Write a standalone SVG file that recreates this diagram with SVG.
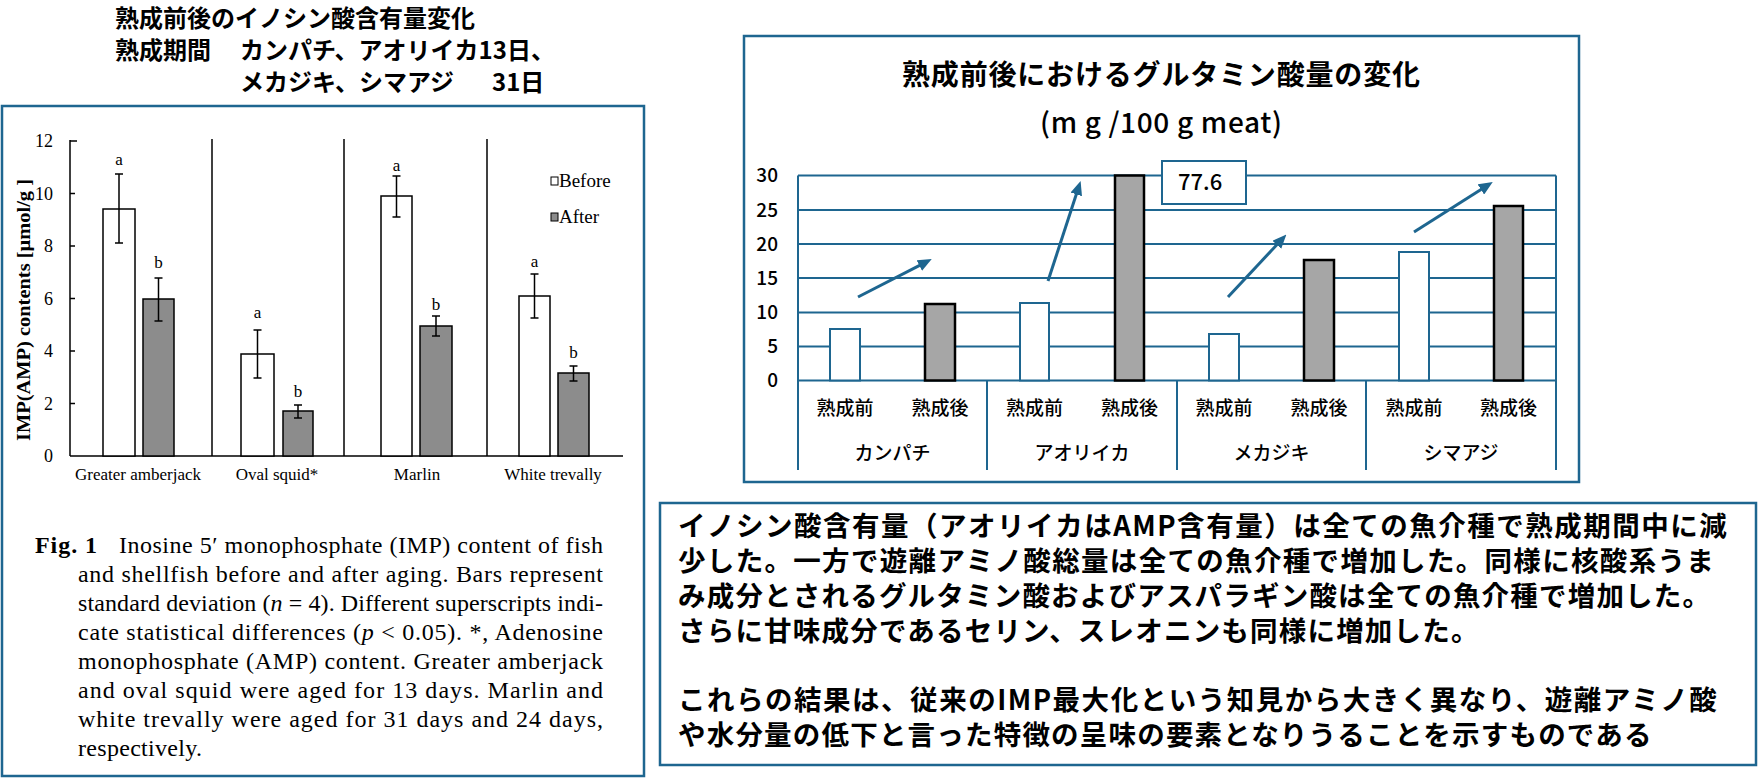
<svg xmlns="http://www.w3.org/2000/svg" width="1758" height="779" viewBox="0 0 1758 779">
<style>
.jp{font-family:"Noto Sans CJK JP","Noto Sans",sans-serif;fill:#000}
.serif{font-family:"Liberation Serif","Times New Roman",serif;fill:#000}
.frame{fill:#fff;stroke:#1E6690;stroke-width:2.5}
.grid{stroke:#1E6690;stroke-width:2;fill:none}
.axis{stroke:#000;stroke-width:1.5;fill:none}
.wbar{fill:#fff;stroke:#000;stroke-width:1.5}
.gbar{fill:#8C8C8C;stroke:#000;stroke-width:1.5}
.err{stroke:#000;stroke-width:1.5;fill:none}
.rw{fill:#fff;stroke:#1E6690;stroke-width:2}
.rg{fill:#A6A6A6;stroke:#000;stroke-width:2.5}
.arrow{stroke:#1E6690;stroke-width:3;fill:none;marker-end:url(#ah)}
.lbl{font-size:17px;text-anchor:middle}
.ytk{font-size:18px;text-anchor:end}
.cap{font-size:24px}
.rx{font-size:19px;font-weight:500;text-anchor:middle}
.ry{font-size:19px;font-weight:500;text-anchor:end}
.body{font-size:27.5px;font-weight:bold;letter-spacing:1.2px}
</style>
<defs>
<marker id="ah" markerUnits="userSpaceOnUse" markerWidth="14" markerHeight="12" refX="2" refY="6" orient="auto">
<path d="M0,0 L14,6 L0,12 z" fill="#1E6690"/>
</marker>
</defs>
<rect width="1758" height="779" fill="#fff"/>

<g id="left-title" class="jp" font-size="24" font-weight="bold">
<text x="115" y="27">熟成前後のイノシン酸含有量変化</text>
<text x="115" y="59">熟成期間<tspan x="240">カンパチ、アオリイカ13日、</tspan></text>
<text x="240" y="91">メカジキ、シマアジ<tspan x="492">31日</tspan></text>
</g>

<g id="left-panel">
<rect class="frame" x="2" y="106" width="642" height="670"/>
<g id="left-axes">
<line class="axis" x1="70" y1="140" x2="70" y2="456"/>
<line class="axis" x1="70" y1="456" x2="623" y2="456"/>
<line class="axis" x1="70" y1="141" x2="77" y2="141"/>
<line class="axis" x1="70" y1="193.5" x2="75" y2="193.5"/>
<line class="axis" x1="70" y1="246" x2="75" y2="246"/>
<line class="axis" x1="70" y1="298.5" x2="75" y2="298.5"/>
<line class="axis" x1="70" y1="351" x2="75" y2="351"/>
<line class="axis" x1="70" y1="403.5" x2="75" y2="403.5"/>
<line class="axis" x1="212" y1="139" x2="212" y2="456"/>
<line class="axis" x1="344" y1="139" x2="344" y2="456"/>
<line class="axis" x1="487" y1="139" x2="487" y2="456"/>
<g class="serif ytk">
<text x="53" y="147">12</text>
<text x="53" y="199.5">10</text>
<text x="53" y="252">8</text>
<text x="53" y="304.5">6</text>
<text x="53" y="357">4</text>
<text x="53" y="409.5">2</text>
<text x="53" y="462">0</text>
</g>
<text class="serif" font-size="18" font-weight="bold" text-anchor="middle" transform="translate(30,310) rotate(-90)" textLength="262" lengthAdjust="spacingAndGlyphs">IMP(AMP) contents [µmol/g ]</text>
</g>
<g id="left-bars">
<rect class="wbar" x="103" y="209" width="32" height="247"/>
<rect class="gbar" x="143" y="299" width="31" height="157"/>
<rect class="wbar" x="241" y="354" width="33" height="102"/>
<rect class="gbar" x="283" y="411" width="30" height="45"/>
<rect class="wbar" x="381" y="196" width="31" height="260"/>
<rect class="gbar" x="420" y="326" width="32" height="130"/>
<rect class="wbar" x="519" y="296" width="31" height="160"/>
<rect class="gbar" x="558" y="373" width="31" height="83"/>
</g>
<g id="left-errors">
<path class="err" d="M119,174 V243 M115,174 H123 M115,243 H123"/>
<path class="err" d="M158.5,278 V321 M154.5,278 H162.5 M154.5,321 H162.5"/>
<path class="err" d="M257.5,330 V378 M253.5,330 H261.5 M253.5,378 H261.5"/>
<path class="err" d="M298,405 V418 M294,405 H302 M294,418 H302"/>
<path class="err" d="M396.5,176 V217 M392.5,176 H400.5 M392.5,217 H400.5"/>
<path class="err" d="M436,316 V336 M432,316 H440 M432,336 H440"/>
<path class="err" d="M534.5,274 V318 M530.5,274 H538.5 M530.5,318 H538.5"/>
<path class="err" d="M573.5,366 V381 M569.5,366 H577.5 M569.5,381 H577.5"/>
</g>
<g id="left-sig" class="serif lbl">
<text x="119" y="165">a</text>
<text x="158.5" y="268">b</text>
<text x="257.5" y="318">a</text>
<text x="298" y="397">b</text>
<text x="396.5" y="171">a</text>
<text x="436" y="310">b</text>
<text x="534.5" y="267">a</text>
<text x="573.5" y="358">b</text>
</g>
<g id="left-cats" class="serif lbl">
<text x="138" y="480">Greater amberjack</text>
<text x="277" y="480">Oval squid*</text>
<text x="417" y="480">Marlin</text>
<text x="553" y="480">White trevally</text>
</g>
<g id="left-legend">
<rect x="551" y="177" width="7" height="8" fill="#fff" stroke="#000" stroke-width="1"/>
<text class="serif" x="559" y="187" font-size="19">Before</text>
<rect x="551" y="213" width="7" height="8" fill="#8C8C8C" stroke="#000" stroke-width="1"/>
<text class="serif" x="559" y="223" font-size="19">After</text>
</g>
<g id="caption" class="serif cap">
<text x="35" y="553" font-weight="bold" textLength="62" lengthAdjust="spacing">Fig. 1</text>
<text x="119" y="553" textLength="484" lengthAdjust="spacing">Inosine 5′ monophosphate (IMP) content of fish</text>
<text x="78" y="582" textLength="525" lengthAdjust="spacing">and shellfish before and after aging. Bars represent</text>
<text x="78" y="611" textLength="525" lengthAdjust="spacing">standard deviation (<tspan font-style="italic">n</tspan> = 4). Different superscripts indi-</text>
<text x="78" y="640" textLength="525" lengthAdjust="spacing">cate statistical differences (<tspan font-style="italic">p</tspan> &lt; 0.05). *, Adenosine</text>
<text x="78" y="669" textLength="525" lengthAdjust="spacing">monophosphate (AMP) content. Greater amberjack</text>
<text x="78" y="698" textLength="525" lengthAdjust="spacing">and oval squid were aged for 13 days. Marlin and</text>
<text x="78" y="727" textLength="525" lengthAdjust="spacing">white trevally were aged for 31 days and 24 days,</text>
<text x="78" y="756" textLength="124" lengthAdjust="spacing">respectively.</text>
</g>
</g>

<g id="right-panel">
<rect class="frame" x="744" y="36" width="835" height="446"/>
<text class="jp" x="902" y="85" font-size="28" font-weight="bold" textLength="518" lengthAdjust="spacing">熟成前後におけるグルタミン酸量の変化</text>
<text class="jp" x="1040" y="133" font-size="28" font-weight="500" textLength="242" lengthAdjust="spacing">(m g /100 g meat)</text>
<g id="right-grid">
<line class="grid" x1="798" y1="175.5" x2="1556" y2="175.5"/>
<line class="grid" x1="798" y1="210" x2="1556" y2="210"/>
<line class="grid" x1="798" y1="244" x2="1556" y2="244"/>
<line class="grid" x1="798" y1="278" x2="1556" y2="278"/>
<line class="grid" x1="798" y1="312.5" x2="1556" y2="312.5"/>
<line class="grid" x1="798" y1="346.5" x2="1556" y2="346.5"/>
<line class="grid" x1="798" y1="380.5" x2="1556" y2="380.5"/>
<line class="grid" x1="798" y1="175.5" x2="798" y2="470"/>
<line class="grid" x1="1556" y1="175.5" x2="1556" y2="470"/>
<line class="grid" x1="987" y1="380.5" x2="987" y2="470"/>
<line class="grid" x1="1177" y1="380.5" x2="1177" y2="470"/>
<line class="grid" x1="1366" y1="380.5" x2="1366" y2="470"/>
</g>
<g id="right-yticks" class="jp ry">
<text x="778" y="182">30</text>
<text x="778" y="216.5">25</text>
<text x="778" y="250.5">20</text>
<text x="778" y="284.5">15</text>
<text x="778" y="319">10</text>
<text x="778" y="353">5</text>
<text x="778" y="387">0</text>
</g>
<g id="right-bars">
<rect class="rw" x="830" y="329" width="30" height="51.5"/>
<rect class="rg" x="925" y="304" width="30" height="76.5"/>
<rect class="rw" x="1020" y="303" width="29" height="77.5"/>
<rect class="rg" x="1115" y="175.5" width="29" height="205"/>
<rect class="rw" x="1209" y="334" width="30" height="46.5"/>
<rect class="rg" x="1304" y="260" width="30" height="120.5"/>
<rect class="rw" x="1399" y="252" width="30" height="128.5"/>
<rect class="rg" x="1494" y="206" width="29" height="174.5"/>
</g>
<g id="label-776">
<rect x="1162" y="161" width="84" height="43" fill="#fff" stroke="#1E6690" stroke-width="2"/>
<text class="jp" x="1178" y="190" font-size="22" font-weight="500">77.6</text>
</g>
<g id="right-xlabels" class="jp rx">
<text x="845" y="415">熟成前</text>
<text x="940" y="415">熟成後</text>
<text x="1034.5" y="415">熟成前</text>
<text x="1129.5" y="415">熟成後</text>
<text x="1224" y="415">熟成前</text>
<text x="1319" y="415">熟成後</text>
<text x="1414" y="415">熟成前</text>
<text x="1508.5" y="415">熟成後</text>
<text x="892.5" y="460">カンパチ</text>
<text x="1082" y="460">アオリイカ</text>
<text x="1271.5" y="460">メカジキ</text>
<text x="1461" y="460">シマアジ</text>
</g>
<g id="connectors">
<line class="arrow" x1="858" y1="297" x2="921.1" y2="264.6"/>
<line class="arrow" x1="1048" y1="281" x2="1076.9" y2="192.5"/>
<line class="arrow" x1="1228" y1="297" x2="1278.2" y2="243.3"/>
<line class="arrow" x1="1414" y1="232" x2="1482.6" y2="188.4"/>
</g>
</g>

<g id="summary">
<rect class="frame" x="660" y="503" width="1096" height="262"/>
<g class="jp body">
<text x="678" y="536" textLength="1050" lengthAdjust="spacing">イノシン酸含有量（アオリイカはAMP含有量）は全ての魚介種で熟成期間中に減</text>
<text x="678" y="571" textLength="1037" lengthAdjust="spacing">少した。一方で遊離アミノ酸総量は全ての魚介種で増加した。同様に核酸系うま</text>
<text x="678" y="606">み成分とされるグルタミン酸およびアスパラギン酸は全ての魚介種で増加した。</text>
<text x="678" y="641">さらに甘味成分であるセリン、スレオニンも同様に増加した。</text>
<text x="678" y="710" textLength="1040" lengthAdjust="spacing">これらの結果は、従来のIMP最大化という知見から大きく異なり、遊離アミノ酸</text>
<text x="678" y="745">や水分量の低下と言った特徴の呈味の要素となりうることを示すものである</text>
</g>
</g>
</svg>
